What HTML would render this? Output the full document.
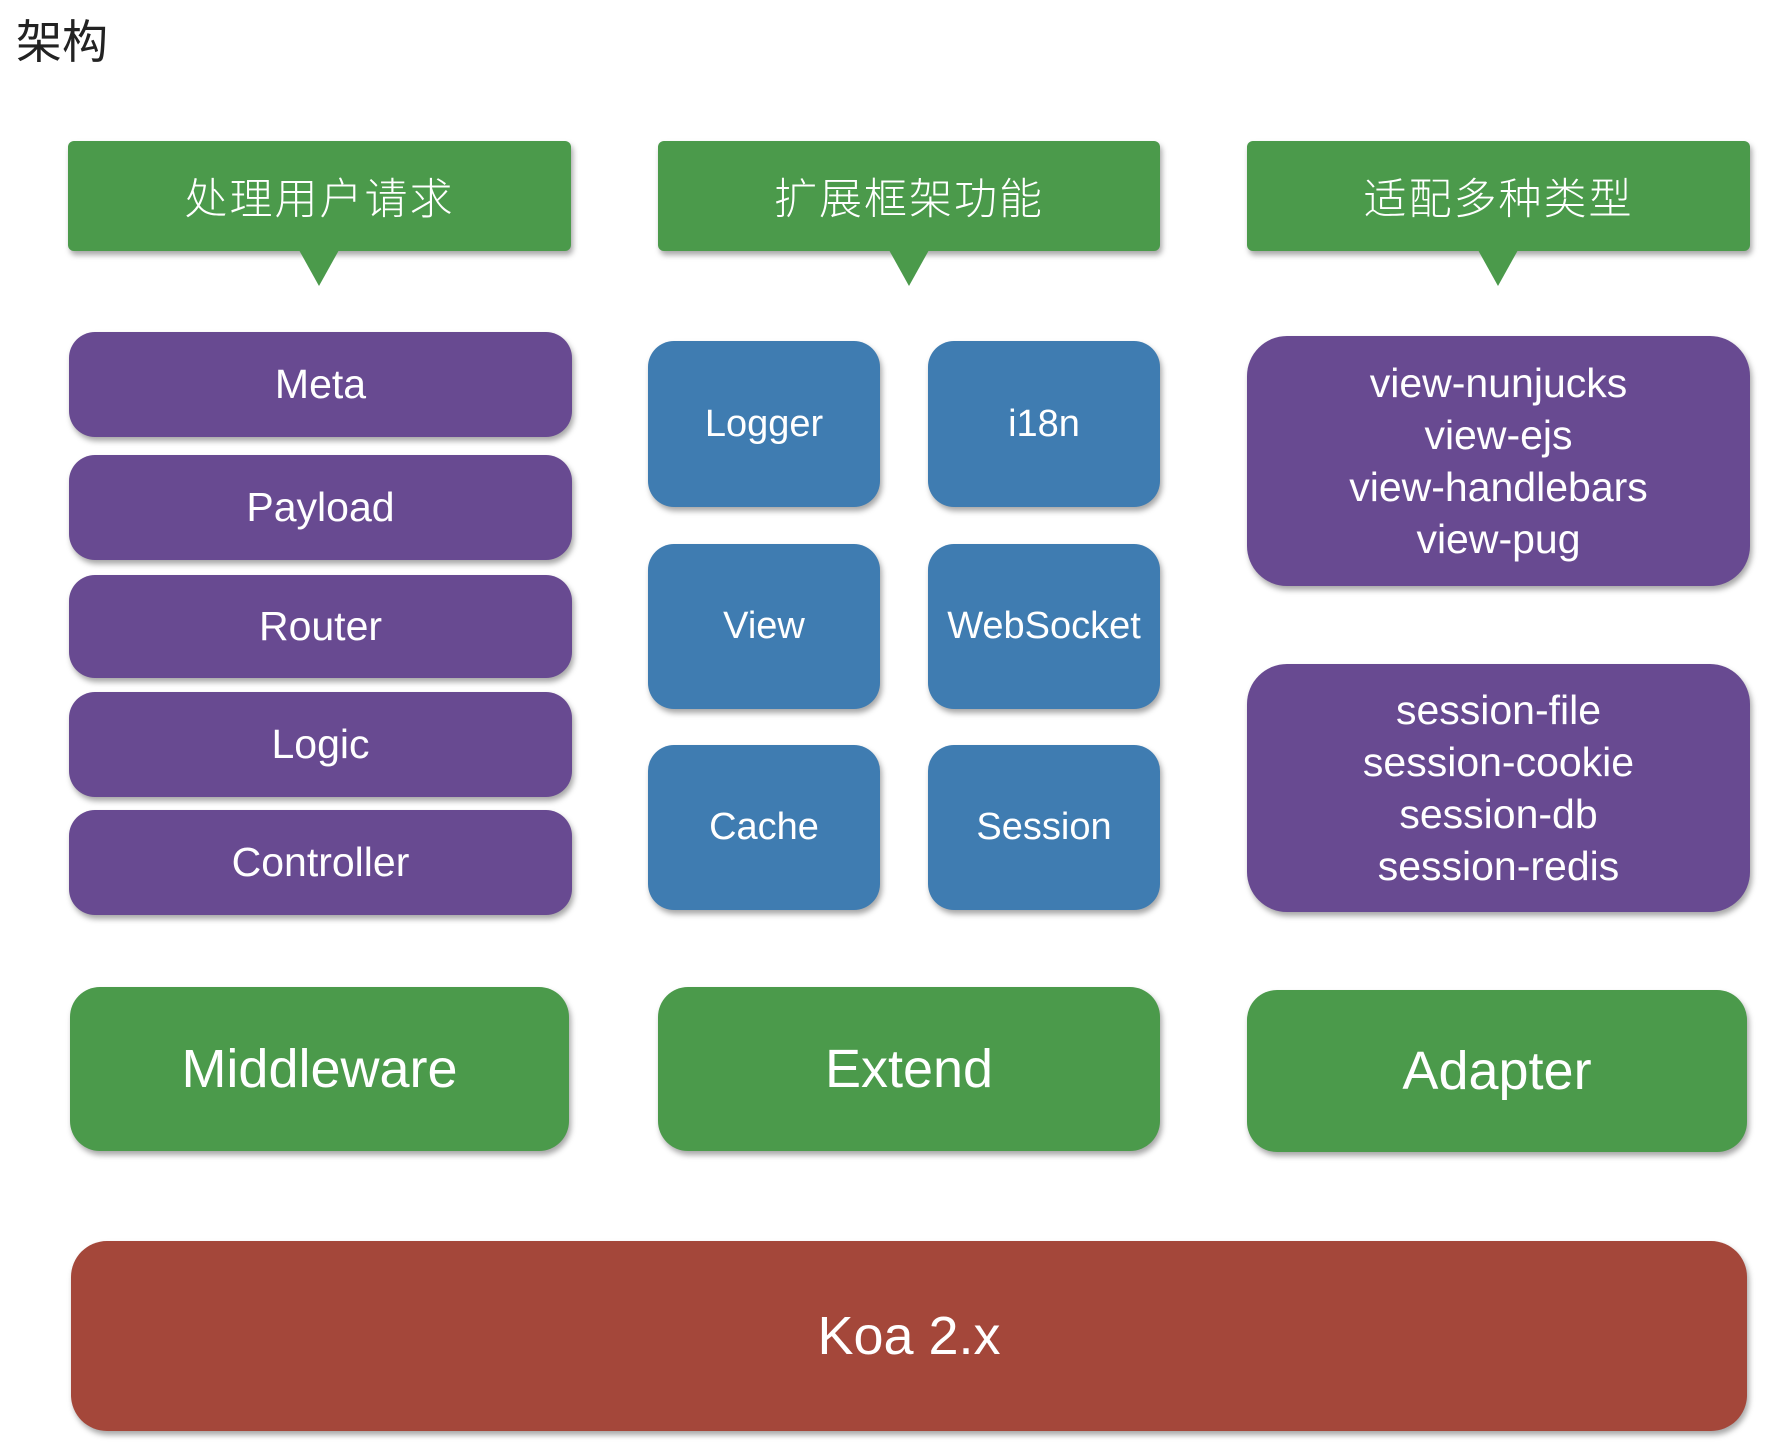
<!DOCTYPE html>
<html><head><meta charset="utf-8"><style>
body{margin:0;width:1770px;height:1446px;background:#fff;position:relative;overflow:hidden;font-family:"Liberation Sans","Noto Sans CJK SC",sans-serif;}
.b{position:absolute;display:flex;align-items:center;justify-content:center;text-align:center;color:#fff;box-shadow:2px 4px 6px rgba(0,0,0,0.35);box-sizing:border-box;}
.g{background:#4b9a4b;}
.p{background:#684a91;border-radius:26px;font-size:41px;}
.u{background:#3f7cb1;border-radius:26px;font-size:38px;}
.h{border-radius:6px;font-size:43px;font-family:"Noto Sans CJK SC",sans-serif;font-weight:300;letter-spacing:2px;}
.tri{position:absolute;width:0;height:0;border-left:20px solid transparent;border-right:20px solid transparent;border-top:36px solid #4b9a4b;}
.big{border-radius:30px;font-size:54px;}
</style></head><body>
<div style="position:absolute;left:16px;top:6px;font-size:46px;color:#222;font-family:'Noto Sans CJK SC',sans-serif;">架构</div>

<div class="b g h" style="left:68px;top:141px;width:503px;height:110px;">处理用户请求</div>
<div class="tri" style="left:299px;top:250px;"></div>
<div class="b g h" style="left:658px;top:141px;width:502px;height:110px;">扩展框架功能</div>
<div class="tri" style="left:889px;top:250px;"></div>
<div class="b g h" style="left:1247px;top:141px;width:503px;height:110px;">适配多种类型</div>
<div class="tri" style="left:1478px;top:250px;"></div>

<div class="b p" style="left:69px;top:332px;width:503px;height:105px;">Meta</div>
<div class="b p" style="left:69px;top:455px;width:503px;height:105px;">Payload</div>
<div class="b p" style="left:69px;top:575px;width:503px;height:103px;">Router</div>
<div class="b p" style="left:69px;top:692px;width:503px;height:105px;">Logic</div>
<div class="b p" style="left:69px;top:810px;width:503px;height:105px;">Controller</div>

<div class="b u" style="left:648px;top:341px;width:232px;height:166px;">Logger</div>
<div class="b u" style="left:928px;top:341px;width:232px;height:166px;">i18n</div>
<div class="b u" style="left:648px;top:544px;width:232px;height:165px;">View</div>
<div class="b u" style="left:928px;top:544px;width:232px;height:165px;">WebSocket</div>
<div class="b u" style="left:648px;top:745px;width:232px;height:165px;">Cache</div>
<div class="b u" style="left:928px;top:745px;width:232px;height:165px;">Session</div>

<div class="b p" style="left:1247px;top:336px;width:503px;height:250px;border-radius:40px;line-height:52px;">view-nunjucks<br>view-ejs<br>view-handlebars<br>view-pug</div>
<div class="b p" style="left:1247px;top:664px;width:503px;height:248px;border-radius:40px;line-height:52px;">session-file<br>session-cookie<br>session-db<br>session-redis</div>

<div class="b g big" style="left:70px;top:987px;width:499px;height:164px;">Middleware</div>
<div class="b g big" style="left:658px;top:987px;width:502px;height:164px;">Extend</div>
<div class="b g big" style="left:1247px;top:990px;width:500px;height:162px;">Adapter</div>

<div class="b big" style="left:71px;top:1241px;width:1676px;height:190px;background:#a4473a;border-radius:36px;">Koa 2.x</div>
</body></html>
